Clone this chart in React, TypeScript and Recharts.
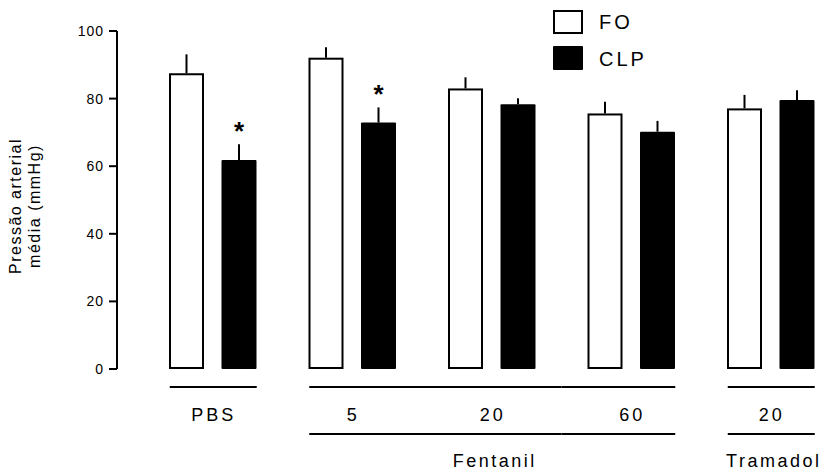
import React from 'react';
import { BarChart, Bar, XAxis, YAxis, ErrorBar, LabelList } from 'recharts';

// Mean arterial pressure per treatment, FO (sham) vs CLP, mean + SEM
const doses = ['PBS', '5', '20', '60', '20'];
const drugs = ['', 'Fentanil', 'Fentanil', 'Fentanil', 'Tramadol'];
const foValues = [87.5, 92.1, 83.0, 75.6, 77.1];
const foSem = [5.6, 3.1, 3.3, 3.5, 4.0];
const clpValues = [61.8, 72.9, 78.3, 70.2, 79.6];
const clpSem = [4.7, 4.5, 1.8, 3.2, 2.9];
const clpMarks = ['*', '*', '', '', ''];
const yTicks = [0, 20, 40, 60, 80, 100];

const FONT = '"Liberation Sans", Arial, Helvetica, sans-serif';

const data = doses.map((dose, i) => ({
  id: i,
  dose,
  fo: foValues[i],
  foErr: [0, foSem[i]],
  clp: clpValues[i],
  clpErr: [0, clpSem[i]],
}));

// white bar with a black outline kept inside the bar's own box
const OutlinedBar = (props: any) => {
  const { x, y, width, height } = props;
  return (
    <rect
      x={x + 1}
      y={y + 1}
      width={Math.max(width - 2, 0)}
      height={Math.max(height - 2, 0)}
      fill="#fff"
      stroke="#000"
      strokeWidth={2}
    />
  );
};

const SolidBar = (props: any) => {
  const { x, y, width, height } = props;
  return <rect x={x} y={y} width={width} height={height} fill="#000" rx={1} />;
};

// significance star placed above the error bar
const StarLabel = (props: any) => {
  const { x, y, width, height, index } = props;
  const mark = clpMarks[index];
  if (!mark) return null;
  const pxPerUnit = height / clpValues[index];
  const errTop = y - clpSem[index] * pxPerUnit;
  return (
    <text
      x={x + width / 2}
      y={errTop - 4}
      textAnchor="middle"
      fontSize={26}
      fontWeight="bold"
      fontFamily={FONT}
      fill="#000"
    >
      {mark}
    </text>
  );
};

// dose label with group rules underneath, drug name under the middle dose
const GroupTick = (props: any) => {
  const { x, y, payload, index } = props;
  const half = payload.offset || 69.75;
  const drug = drugs[index];
  const first = drug === '' || drugs[index - 1] !== drug;
  const last = drug === '' || drugs[index + 1] !== drug;
  const left = first ? x - 43 : x - half;
  const right = last ? x + 44 : x + half;
  const members = drugs.map((d, i) => (d === drug ? i : -1)).filter((i) => i >= 0);
  const middle = members[Math.floor(members.length / 2)];
  return (
    <g>
      <line x1={left} x2={right} y1={y + 18} y2={y + 18} stroke="#000" strokeWidth={2} />
      <text
        x={x + 1}
        y={y + 52}
        textAnchor="middle"
        fontSize={18}
        fontFamily={FONT}
        letterSpacing={3}
        fill="#000"
      >
        {doses[index]}
      </text>
      {drug !== '' && (
        <line x1={left} x2={right} y1={y + 65} y2={y + 65} stroke="#000" strokeWidth={2} />
      )}
      {drug !== '' && index === middle && (
        <text
          x={x + 3}
          y={y + 98}
          textAnchor="middle"
          fontSize={18}
          fontFamily={FONT}
          letterSpacing={2.5}
          fill="#000"
        >
          {drug}
        </text>
      )}
    </g>
  );
};

const AxisTitle = (props: any) => {
  const { viewBox } = props;
  const cy = viewBox.y + viewBox.height / 2 + 6;
  return (
    <text
      transform={`translate(0, ${cy}) rotate(-90)`}
      textAnchor="middle"
      fontSize={16}
      fontFamily={FONT}
      letterSpacing={1.5}
      fill="#000"
    >
      <tspan x={0} y={21}>Pressão arterial</tspan>
      <tspan x={0} y={40}>média (mmHg)</tspan>
    </text>
  );
};

const LegendBox = () => (
  <svg
    width={120}
    height={80}
    style={{ position: 'absolute', left: 553, top: 0, fontFamily: FONT }}
  >
    <rect x={1} y={11} width={28} height={22} fill="#fff" stroke="#000" strokeWidth={2} />
    <text x={46} y={29} fontSize={20} letterSpacing={3} fill="#000">FO</text>
    <rect x={0} y={46} width={30} height={24} fill="#000" rx={1} />
    <text x={46} y={66} fontSize={20} letterSpacing={3} fill="#000">CLP</text>
  </svg>
);

export default function App() {
  return (
    <div
      style={{
        position: 'absolute',
        left: 0,
        top: 0,
        width: 825,
        height: 475,
        overflow: 'hidden',
        background: '#fff',
        fontFamily: FONT,
      }}
    >
      <BarChart
        width={845}
        height={475}
        data={data}
        margin={{ top: 31, right: 0, bottom: 0, left: 57 }}
        barSize={35}
        barGap={17.5}
      >
        <XAxis
          dataKey="id"
          type="category"
          height={106}
          axisLine={false}
          tickLine={false}
          tickSize={0}
          tickMargin={0}
          padding={{ left: 26, right: 4.5 }}
          interval={0}
          tick={<GroupTick />}
        />
        <YAxis
          width={60}
          domain={[0, 100]}
          ticks={yTicks}
          interval={0}
          tickSize={8}
          tickMargin={5}
          axisLine={{ stroke: '#000', strokeWidth: 2 }}
          tickLine={{ stroke: '#000', strokeWidth: 2 }}
          tick={{ fill: '#000', fontSize: 14, letterSpacing: 1, fontFamily: FONT }}
          label={{ content: <AxisTitle /> }}
        />
        <Bar dataKey="fo" name="FO" shape={<OutlinedBar />} isAnimationActive={false}>
          <ErrorBar dataKey="foErr" direction="y" width={0} stroke="#000" strokeWidth={2} />
        </Bar>
        <Bar dataKey="clp" name="CLP" shape={<SolidBar />} isAnimationActive={false}>
          <ErrorBar dataKey="clpErr" direction="y" width={0} stroke="#000" strokeWidth={2} />
          <LabelList dataKey="clp" content={<StarLabel />} />
        </Bar>
      </BarChart>
      <LegendBox />
    </div>
  );
}
